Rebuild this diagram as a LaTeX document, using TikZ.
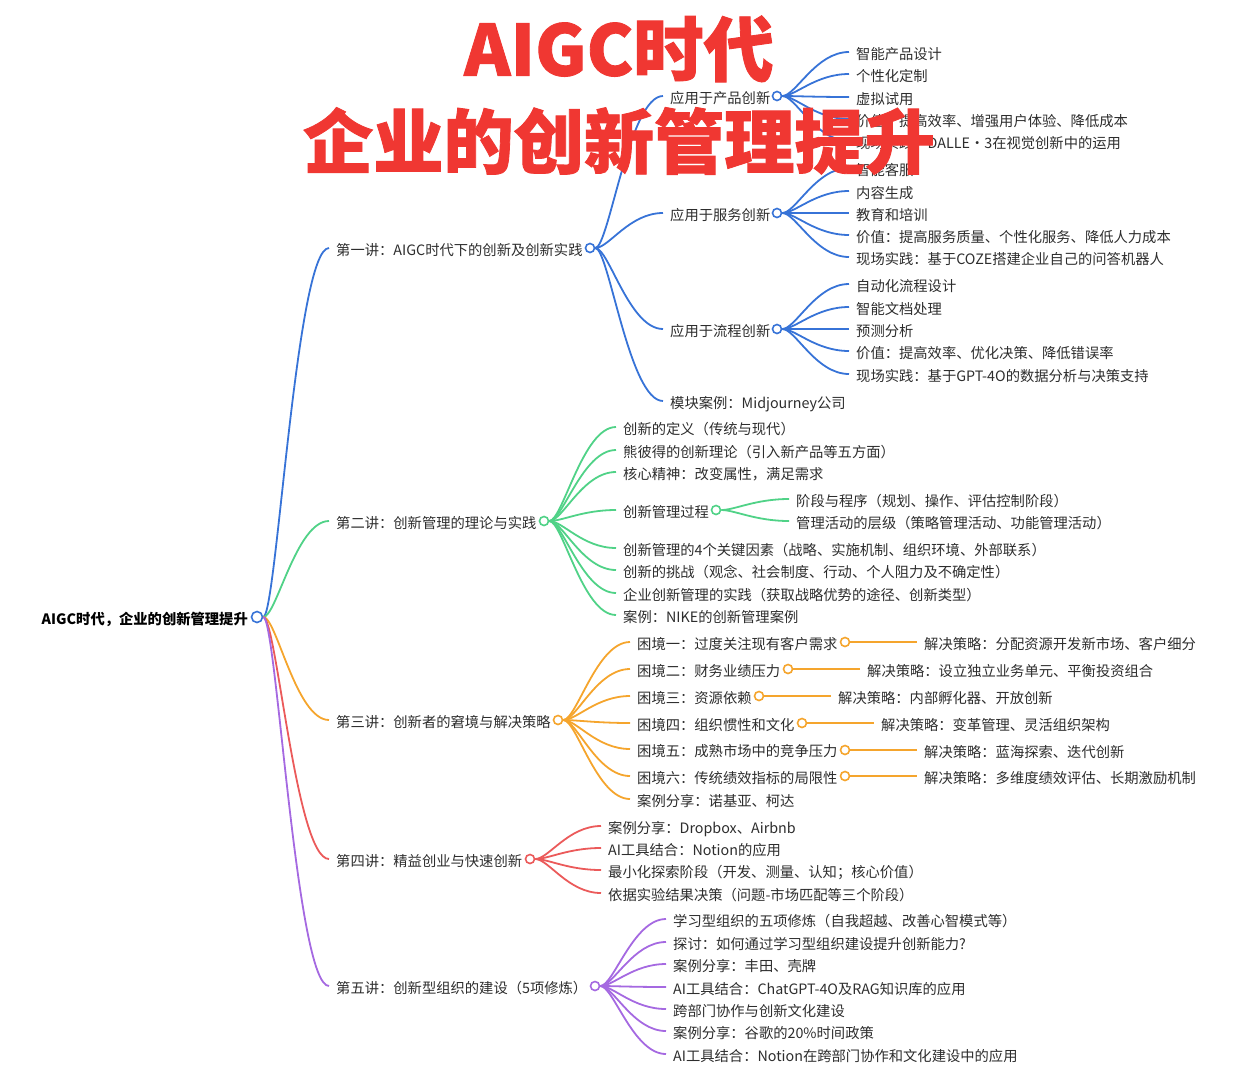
\documentclass[tikz,border=0pt]{standalone}
\usepackage{fontspec}
\usepackage{xcolor}
\usetikzlibrary{calc}
\setmainfont{Noto Sans CJK SC}
\newfontfamily\titlefont{Noto Sans CJK SC Black}[FakeBold=1.2]
\definecolor{inkgrey}{RGB}{45,45,45}
\definecolor{lineblue}{RGB}{55,115,215}
\definecolor{linegreen}{RGB}{80,210,135}
\definecolor{lineorange}{RGB}{245,165,45}
\definecolor{linered}{RGB}{235,90,90}
\definecolor{linepurple}{RGB}{165,105,225}
\definecolor{titlered}{RGB}{240,55,50}
\tikzset{
    topic/.style={anchor=west, yshift=1pt, inner xsep=7pt, inner ysep=0pt, text height=16.6pt, text depth=2.2pt, text=inkgrey, font=\fontsize{14.3pt}{17pt}\selectfont},
    ring/.style={circle, draw=#1, fill=white, line width=1.6pt, inner sep=0pt, minimum size=9pt},
    link/.style={#1, line width=1.8pt},
    headline/.style={text=titlered, inner sep=0pt, font=\titlefont\fontsize{70.2pt}{80pt}\selectfont}
}
\newcommand{\branch}[3]{\draw[link=#1] let \p1=(#2.east), \p2=(#3.west), \n1={\x1+0.2*(\x2-\x1)}, \n2={\x1+0.5*(\x2-\x1)} in (\p1) .. controls (\n1,\y1) and (\n2,\y2) .. (\p2);}

\begin{document}
\begin{tikzpicture}[x=1pt, y=-1pt]
    \useasboundingbox (0, 0) rectangle (1240, 1080);

    % root
    \node[topic, anchor=east, font=\fontsize{14.3pt}{17pt}\selectfont\bfseries, text=black] (root) at (255, 618) {AIGC时代，企业的创新管理提升};
    \node[ring=lineblue, minimum size=11pt] (dotroot) at (257, 617) {};

    % lectures
    \node[topic] (one) at (329, 249) {第一讲：AIGC时代下的创新及创新实践};
    \node[topic] (two) at (329, 522) {第二讲：创新管理的理论与实践};
    \node[topic] (three) at (329, 721) {第三讲：创新者的窘境与解决策略};
    \node[topic] (four) at (329, 860) {第四讲：精益创业与快速创新};
    \node[topic] (five) at (329, 987) {第五讲：创新型组织的建设（5项修炼）};
    \node[ring=lineblue] (dotone) at (590, 248) {};
    \node[ring=linegreen] (dottwo) at (544, 521) {};
    \node[ring=lineorange] (dotthree) at (558, 720) {};
    \node[ring=linered] (dotfour) at (530, 859) {};
    \node[ring=linepurple] (dotfive) at (595, 986) {};
    \branch{lineblue}{dotroot}{one}
    \branch{linegreen}{dotroot}{two}
    \branch{lineorange}{dotroot}{three}
    \branch{linered}{dotroot}{four}
    \branch{linepurple}{dotroot}{five}

    % first lecture
    \node[topic] (product) at (663, 97) {应用于产品创新};
    \node[topic] (service) at (663, 214) {应用于服务创新};
    \node[topic] (process) at (663, 330) {应用于流程创新};
    \node[topic] (onecase) at (663, 402) {模块案例：Midjourney公司};
    \node[ring=lineblue] (dotproduct) at (777, 96) {};
    \node[ring=lineblue] (dotservice) at (777, 213) {};
    \node[ring=lineblue] (dotprocess) at (777, 329) {};
    \branch{lineblue}{dotone}{product}
    \branch{lineblue}{dotone}{service}
    \branch{lineblue}{dotone}{process}
    \branch{lineblue}{dotone}{onecase}

    \node[topic] (proda) at (849, 53) {智能产品设计};
    \node[topic] (prodb) at (849, 75) {个性化定制};
    \node[topic] (prodc) at (849, 98) {虚拟试用};
    \node[topic] (prodd) at (849, 120) {价值：提高效率、增强用户体验、降低成本};
    \node[topic] (prode) at (849, 142) {现场实践：DALLE・3在视觉创新中的运用};
    \branch{lineblue}{dotproduct}{proda}
    \branch{lineblue}{dotproduct}{prodb}
    \branch{lineblue}{dotproduct}{prodc}
    \branch{lineblue}{dotproduct}{prodd}
    \branch{lineblue}{dotproduct}{prode}

    \node[topic] (serva) at (849, 169) {智能客服};
    \node[topic] (servb) at (849, 192) {内容生成};
    \node[topic] (servc) at (849, 214) {教育和培训};
    \node[topic] (servd) at (849, 236) {价值：提高服务质量、个性化服务、降低人力成本};
    \node[topic] (serve) at (849, 258) {现场实践：基于COZE搭建企业自己的问答机器人};
    \branch{lineblue}{dotservice}{serva}
    \branch{lineblue}{dotservice}{servb}
    \branch{lineblue}{dotservice}{servc}
    \branch{lineblue}{dotservice}{servd}
    \branch{lineblue}{dotservice}{serve}

    \node[topic] (proca) at (849, 285) {自动化流程设计};
    \node[topic] (procb) at (849, 308) {智能文档处理};
    \node[topic] (procc) at (849, 330) {预测分析};
    \node[topic] (procd) at (849, 352) {价值：提高效率、优化决策、降低错误率};
    \node[topic] (proce) at (849, 375) {现场实践：基于GPT-4O的数据分析与决策支持};
    \branch{lineblue}{dotprocess}{proca}
    \branch{lineblue}{dotprocess}{procb}
    \branch{lineblue}{dotprocess}{procc}
    \branch{lineblue}{dotprocess}{procd}
    \branch{lineblue}{dotprocess}{proce}

    % second lecture
    \node[topic] (twoa) at (616, 428) {创新的定义（传统与现代）};
    \node[topic] (twob) at (616, 451) {熊彼得的创新理论（引入新产品等五方面）};
    \node[topic] (twoc) at (616, 473) {核心精神：改变属性，满足需求};
    \node[topic] (twod) at (616, 511) {创新管理过程};
    \node[topic] (twoe) at (616, 549) {创新管理的4个关键因素（战略、实施机制、组织环境、外部联系）};
    \node[topic] (twof) at (616, 571) {创新的挑战（观念、社会制度、行动、个人阻力及不确定性）};
    \node[topic] (twog) at (616, 594) {企业创新管理的实践（获取战略优势的途径、创新类型）};
    \node[topic] (twoh) at (616, 616) {案例：NIKE的创新管理案例};
    \node[ring=linegreen] (dottwod) at (716, 510) {};
    \branch{linegreen}{dottwo}{twoa}
    \branch{linegreen}{dottwo}{twob}
    \branch{linegreen}{dottwo}{twoc}
    \branch{linegreen}{dottwo}{twod}
    \branch{linegreen}{dottwo}{twoe}
    \branch{linegreen}{dottwo}{twof}
    \branch{linegreen}{dottwo}{twog}
    \branch{linegreen}{dottwo}{twoh}
    \node[topic] (stage) at (789, 500) {阶段与程序（规划、操作、评估控制阶段）};
    \node[topic] (level) at (789, 522) {管理活动的层级（策略管理活动、功能管理活动）};
    \branch{linegreen}{dottwod}{stage}
    \branch{linegreen}{dottwod}{level}

    % third lecture
    \node[topic] (hurta) at (630, 643) {困境一：过度关注现有客户需求};
    \node[topic] (hurtb) at (630, 670) {困境二：财务业绩压力};
    \node[topic] (hurtc) at (630, 697) {困境三：资源依赖};
    \node[topic] (hurtd) at (630, 724) {困境四：组织惯性和文化};
    \node[topic] (hurte) at (630, 750) {困境五：成熟市场中的竞争压力};
    \node[topic] (hurtf) at (630, 777) {困境六：传统绩效指标的局限性};
    \node[topic] (hurtg) at (630, 800) {案例分享：诺基亚、柯达};
    \node[ring=lineorange] (dothurta) at (845, 642) {};
    \node[ring=lineorange] (dothurtb) at (788, 669) {};
    \node[ring=lineorange] (dothurtc) at (759, 696) {};
    \node[ring=lineorange] (dothurtd) at (802, 723) {};
    \node[ring=lineorange] (dothurte) at (845, 750) {};
    \node[ring=lineorange] (dothurtf) at (845, 776) {};
    \branch{lineorange}{dotthree}{hurta}
    \branch{lineorange}{dotthree}{hurtb}
    \branch{lineorange}{dotthree}{hurtc}
    \branch{lineorange}{dotthree}{hurtd}
    \branch{lineorange}{dotthree}{hurte}
    \branch{lineorange}{dotthree}{hurtf}
    \branch{lineorange}{dotthree}{hurtg}
    \node[topic] (fixa) at (917, 643) {解决策略：分配资源开发新市场、客户细分};
    \node[topic] (fixb) at (860, 670) {解决策略：设立独立业务单元、平衡投资组合};
    \node[topic] (fixc) at (831, 697) {解决策略：内部孵化器、开放创新};
    \node[topic] (fixd) at (874, 724) {解决策略：变革管理、灵活组织架构};
    \node[topic] (fixe) at (917, 751) {解决策略：蓝海探索、迭代创新};
    \node[topic] (fixf) at (917, 777) {解决策略：多维度绩效评估、长期激励机制};
    \branch{lineorange}{dothurta}{fixa}
    \branch{lineorange}{dothurtb}{fixb}
    \branch{lineorange}{dothurtc}{fixc}
    \branch{lineorange}{dothurtd}{fixd}
    \branch{lineorange}{dothurte}{fixe}
    \branch{lineorange}{dothurtf}{fixf}

    % fourth lecture
    \node[topic] (foura) at (601, 827) {案例分享：Dropbox、Airbnb};
    \node[topic] (fourb) at (601, 849) {AI工具结合：Notion的应用};
    \node[topic] (fourc) at (601, 871) {最小化探索阶段（开发、测量、认知；核心价值）};
    \node[topic] (fourd) at (601, 894) {依据实验结果决策（问题-市场匹配等三个阶段）};
    \branch{linered}{dotfour}{foura}
    \branch{linered}{dotfour}{fourb}
    \branch{linered}{dotfour}{fourc}
    \branch{linered}{dotfour}{fourd}

    % fifth lecture
    \node[topic] (fivea) at (666, 920) {学习型组织的五项修炼（自我超越、改善心智模式等）};
    \node[topic] (fiveb) at (666, 943) {探讨：如何通过学习型组织建设提升创新能力?};
    \node[topic] (fivec) at (666, 965) {案例分享：丰田、壳牌};
    \node[topic] (fived) at (666, 988) {AI工具结合：ChatGPT-4O及RAG知识库的应用};
    \node[topic] (fivee) at (666, 1010) {跨部门协作与创新文化建设};
    \node[topic] (fivef) at (666, 1032) {案例分享：谷歌的20\%时间政策};
    \node[topic] (fiveg) at (666, 1055) {AI工具结合：Notion在跨部门协作和文化建设中的应用};
    \branch{linepurple}{dotfive}{fivea}
    \branch{linepurple}{dotfive}{fiveb}
    \branch{linepurple}{dotfive}{fivec}
    \branch{linepurple}{dotfive}{fived}
    \branch{linepurple}{dotfive}{fivee}
    \branch{linepurple}{dotfive}{fivef}
    \branch{linepurple}{dotfive}{fiveg}

    % big title on top
    \node[headline] (titletop) at (619, 49) {AIGC时代};
    \node[headline] (titlebottom) at (619, 141) {企业的创新管理提升};
\end{tikzpicture}
\end{document}
